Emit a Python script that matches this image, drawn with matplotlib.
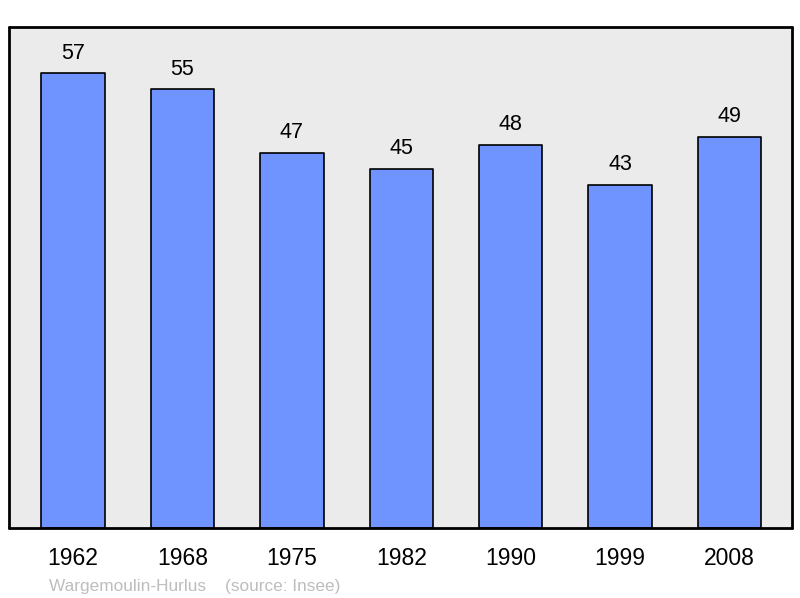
import matplotlib.pyplot as plt

plt.rcParams['font.family'] = ['Liberation Sans', 'DejaVu Sans']

years = ['1962', '1968', '1975', '1982', '1990', '1999', '2008']
population = [57, 55, 47, 45, 48, 43, 49]

fig = plt.figure(figsize=(8, 5.98), dpi=100)
ax = fig.add_axes([9 / 800, 1 - 528 / 598, 783 / 800, 501 / 598])
ax.set_facecolor('#ebebeb')

x = range(len(years))
bars = ax.bar(x, population, width=0.58, color='#7094ff', edgecolor='black',
              linewidth=1.2, joinstyle='round')
for xi, v in zip(x, population):
    ax.annotate(str(v), (xi, v), xytext=(0, 7), textcoords='offset points',
                ha='center', va='bottom', fontsize=15.5)

ax.set_xlim(-0.585, 6.57)
ax.set_ylim(0, 62.8)
ax.set_xticks(list(x))
ax.set_xticklabels(years, fontsize=16.5)
ax.tick_params(axis='x', length=0, pad=14)
ax.set_yticks([])
for s in ax.spines.values():
    s.set_linewidth(2)
    s.set_capstyle('round')

fig.text(49 / 800, 1 - 586 / 598, 'Wargemoulin-Hurlus    (source: Insee)',
         color='#bdbdbd', fontsize=12.4, va='center', ha='left')

fig.savefig('out.png', dpi=100)
